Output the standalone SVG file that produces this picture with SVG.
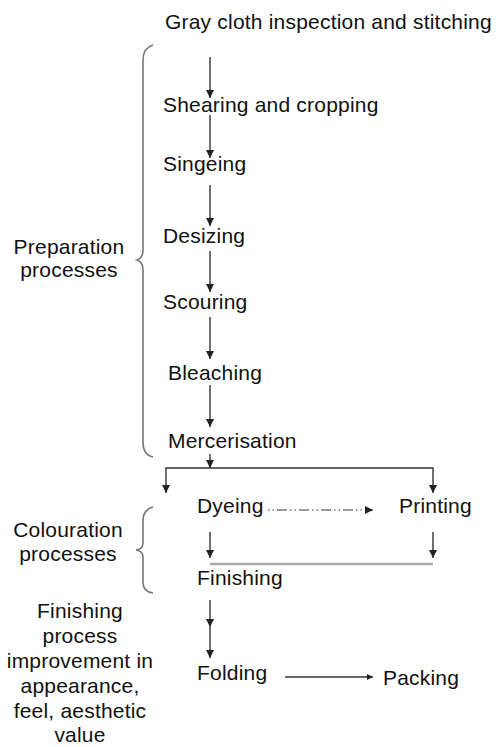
<svg xmlns="http://www.w3.org/2000/svg" width="496" height="747" viewBox="0 0 496 747">
  <style>
    text { font-family: "Liberation Sans", Arial, sans-serif; font-size: 21px; fill: #111; letter-spacing: 0.2px; }
    .mid { text-anchor: middle; }
    .flow { fill: none; stroke: #333; stroke-width: 1.4; }
    .dashdot { fill: none; stroke: #9a9a9a; stroke-width: 2; stroke-dasharray: 1.5 3 1.5 3 10 3; }
    .join { fill: none; stroke: #aaa; stroke-width: 2.5; }
    .brace { fill: none; stroke: #777; stroke-width: 1.6; }
  </style>
  <defs>
    <marker id="head" viewBox="0 0 10 10" refX="10" refY="5" markerWidth="6" markerHeight="6" markerUnits="userSpaceOnUse" orient="auto">
      <path d="M0,0 L10,5 L0,10 Z" fill="#222"/>
    </marker>
    <marker id="headBig" viewBox="0 0 10 10" refX="10" refY="5" markerWidth="8" markerHeight="8" markerUnits="userSpaceOnUse" orient="auto">
      <path d="M0,0 L10,5 L0,10 Z" fill="#222"/>
    </marker>
  </defs>

  <!-- side labels and braces -->
  <g id="preparation-label">
    <text class="mid" x="69" y="254">Preparation</text>
    <text class="mid" x="69" y="277">processes</text>
    <path class="brace" d="M153,45 Q143,48 143,60 V250 Q143,258 137,260 Q143,262 143,270 V442 Q143,455 153,457"/>
  </g>
  <g id="colouration-label">
    <text class="mid" x="68" y="537">Colouration</text>
    <text class="mid" x="68" y="561">processes</text>
    <path class="brace" d="M153,507 Q143,510 143,520 V543 Q143,549 136,550 Q143,551 143,557 V582 Q143,592 153,593"/>
  </g>
  <g id="finishing-label">
    <text class="mid" x="80" y="618">Finishing</text>
    <text class="mid" x="80" y="643">process</text>
    <text class="mid" x="80" y="668">improvement in</text>
    <text class="mid" x="80" y="693">appearance,</text>
    <text class="mid" x="80" y="718">feel,  aesthetic</text>
    <text class="mid" x="80" y="742">value</text>
  </g>

  <!-- process steps -->
  <g id="inspection"><text x="165" y="29">Gray cloth inspection and stitching</text></g>
  <g id="shearing"><text x="163" y="112">Shearing and cropping</text></g>
  <g id="singeing"><text x="163" y="171">Singeing</text></g>
  <g id="desizing"><text x="163" y="243">Desizing</text></g>
  <g id="scouring"><text x="163" y="309">Scouring</text></g>
  <g id="bleaching"><text x="168" y="380">Bleaching</text></g>
  <g id="mercerisation"><text x="168" y="448">Mercerisation</text></g>
  <g id="dyeing"><text x="197" y="513">Dyeing</text></g>
  <g id="printing"><text x="399" y="513">Printing</text></g>
  <g id="finishing"><text x="197" y="585">Finishing</text></g>
  <g id="folding"><text x="197" y="680">Folding</text></g>
  <g id="packing"><text x="383" y="685">Packing</text></g>

  <!-- connectors -->
  <g id="connectors">
    <line class="flow" x1="210" y1="57" x2="210" y2="98" marker-end="url(#headBig)"/>
    <line class="flow" x1="210" y1="115" x2="210" y2="158" marker-end="url(#headBig)"/>
    <line class="flow" x1="210" y1="185" x2="210" y2="226" marker-end="url(#headBig)"/>
    <line class="flow" x1="210" y1="251" x2="210" y2="292" marker-end="url(#headBig)"/>
    <line class="flow" x1="210" y1="317" x2="210" y2="359" marker-end="url(#headBig)"/>
    <line class="flow" x1="210" y1="385" x2="210" y2="427" marker-end="url(#headBig)"/>
    <line class="flow" x1="210" y1="454" x2="210" y2="468" marker-end="url(#headBig)"/>
    <path class="flow" d="M210,468 H166 V493" marker-end="url(#headBig)"/>
    <path class="flow" d="M210,468 H433 V493" marker-end="url(#headBig)"/>
    <line class="dashdot" x1="268" y1="510" x2="373" y2="510" marker-end="url(#headBig)"/>
    <line class="flow" x1="210" y1="532" x2="210" y2="558" marker-end="url(#headBig)"/>
    <line class="flow" x1="433" y1="532" x2="433" y2="558" marker-end="url(#headBig)"/>
    <line class="join" x1="210" y1="564" x2="433" y2="564"/>
    <line class="flow" x1="210" y1="600" x2="210" y2="627" marker-end="url(#headBig)"/>
    <line class="flow" x1="210" y1="627" x2="210" y2="658" marker-end="url(#headBig)"/>
    <line class="flow" x1="285" y1="677" x2="373" y2="677" marker-end="url(#head)"/>
  </g>
</svg>
